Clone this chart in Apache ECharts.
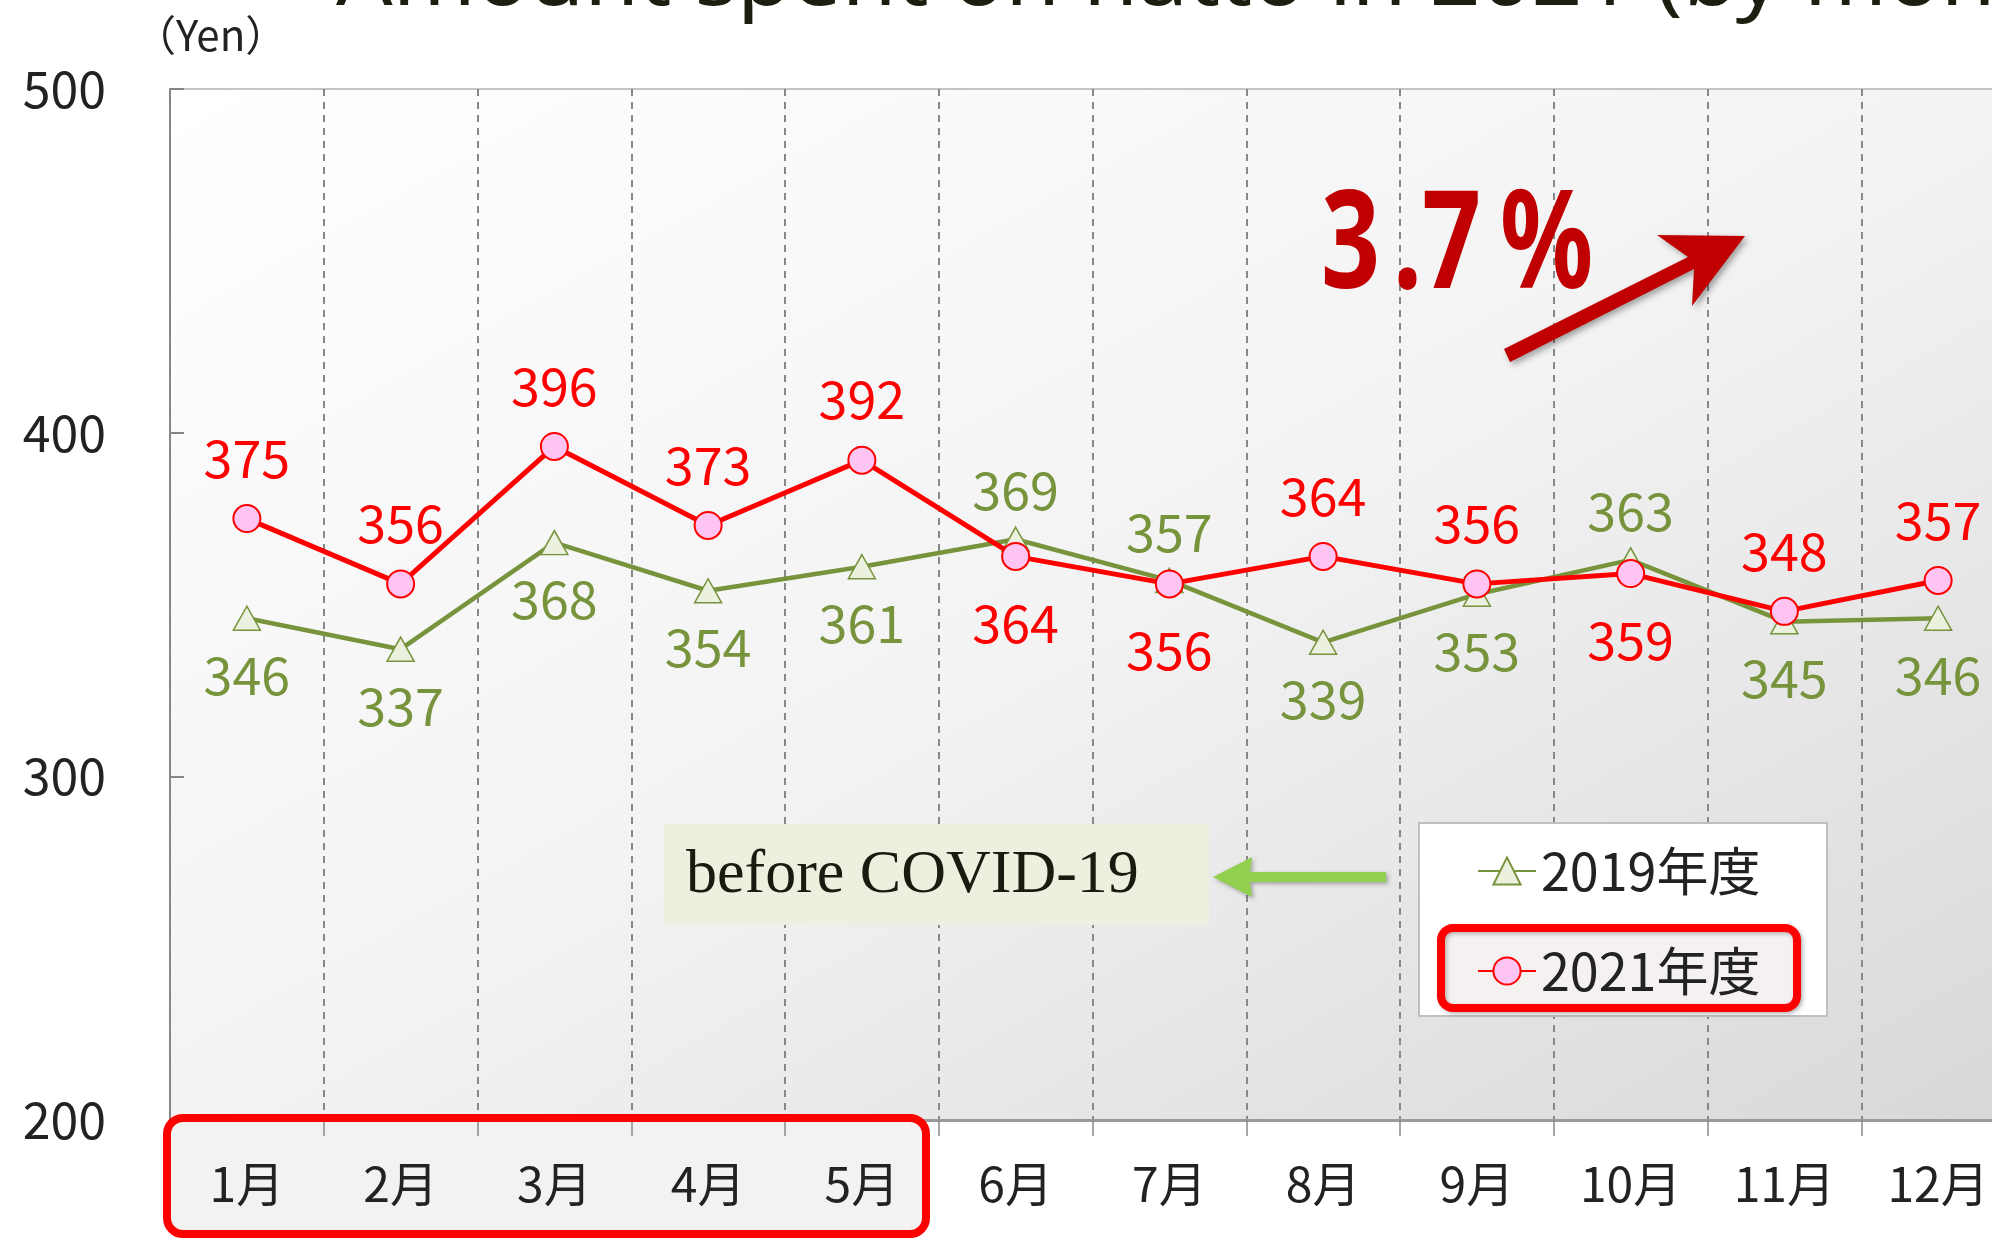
<!DOCTYPE html>
<html><head><meta charset="utf-8">
<script src="https://cdn.jsdelivr.net/npm/echarts@6/dist/echarts.min.js"></script>
<style>html,body{margin:0;padding:0;background:#fff;overflow:hidden;width:1992px;height:1242px}#c{width:2030px;height:1242px}</style>
</head><body><div id="c"></div>
<script>
const months = ['1月','2月','3月','4月','5月','6月','7月','8月','9月','10月','11月','12月'];
const yMin = 200, yMax = 500, yStep = 100;
const values2019 = [346, 337, 368, 354, 361, 369, 357, 339, 353, 363, 345, 346];
const values2021 = [375, 356, 396, 373, 392, 364, 356, 364, 356, 359, 348, 357];
const side2019 = ['bottom','bottom','bottom','bottom','bottom','top','top','bottom','bottom','top','bottom','bottom'];
const side2021 = ['top','top','top','top','top','bottom','bottom','top','top','bottom','top','top'];
const name2019 = '2019年度', name2021 = '2021年度';
const titleText = 'Amount spent on natto in 2021 (by month)';
const unitText = '（Yen）';
const noteText = 'before COVID-19';
const growthChars = ['3', '.', '7', '%'];

const FONT = '"Noto Sans CJK JP", "Noto Sans", sans-serif';
const GREEN = '#77933c', RED = '#ff0000', DARKRED = '#c00000';

function items(vals, sides, dTop, dBottom) {
  return vals.map((v, i) => ({
    value: v,
    label: { position: sides[i], distance: sides[i] === 'top' ? dTop : dBottom }
  }));
}

const chart = echarts.init(document.getElementById('c'), null, { renderer: 'canvas' });

const growthX = [1321, 1393, 1422, 1500];
const growthText = growthChars.map((ch, i) => ({
  type: 'text', x: growthX[i], y: 249, scaleX: 0.76, z: 20,
  style: { text: ch, fill: DARKRED, font: 'bold 136px "Noto Sans", sans-serif', align: 'left', verticalAlign: 'middle' }
}));

chart.setOption({
  backgroundColor: '#ffffff',
  animation: false,
  grid: {
    left: 170, top: 89, width: 1845, height: 1031,
    show: true, borderColor: '#c4c4c4', borderWidth: 2,
    backgroundColor: { type: 'linear', x: 170, y: 89, x2: 1048, y2: 1661, global: true,
      colorStops: [{ offset: 0, color: '#ffffff' }, { offset: 0.5, color: '#f3f3f3' }, { offset: 1, color: '#d8d8d8' }] }
  },
  legend: {
    orient: 'vertical', left: 1472, top: 840, itemGap: 48,
    itemWidth: 58, itemHeight: 34, z: 30,
    textStyle: { fontSize: 52, color: '#222', fontFamily: FONT, padding: [0,0,0,0] },
    data: [name2019, name2021]
  },
  xAxis: {
    type: 'category', data: months, boundaryGap: true, z: 3,
    axisLine: { lineStyle: { color: '#9a9a9a', width: 3 } },
    axisTick: { show: true, length: 16, lineStyle: { color: '#8a8a8a', width: 1.5 } },
    axisLabel: { fontSize: 48, color: '#222', fontFamily: FONT, margin: 40 },
    splitLine: { show: true, lineStyle: { color: '#888888', width: 2, type: [7, 6] } }
  },
  yAxis: {
    type: 'value', min: yMin, max: yMax, interval: yStep,
    axisLine: { show: true, lineStyle: { color: '#858585', width: 2 } },
    axisTick: { show: true, inside: true, length: 14, lineStyle: { color: '#858585', width: 2 } },
    axisLabel: { fontSize: 50, color: '#222', fontFamily: FONT, margin: 64 },
    splitLine: { show: false }
  },
  series: [
    {
      name: name2019, type: 'line', data: items(values2019, side2019, 10, 18), z: 4,
      symbol: 'triangle', symbolSize: [27, 24],
      lineStyle: { color: GREEN, width: 4.5 },
      itemStyle: { color: '#ebf1de', borderColor: GREEN, borderWidth: 1.5 },
      label: { show: true, color: GREEN, fontSize: 52, fontFamily: FONT }
    },
    {
      name: name2021, type: 'line', data: items(values2021, side2021, 20, 26), z: 5,
      symbol: 'circle', symbolSize: 27,
      lineStyle: { color: RED, width: 5 },
      itemStyle: { color: '#ffc4f2', borderColor: RED, borderWidth: 2 },
      label: { show: true, color: RED, fontSize: 52, fontFamily: FONT }
    }
  ],
  graphic: [
    { type: 'text', x: 336, y: -18, scaleX: 1.11, z: 20,
      style: { text: titleText, fill: '#1e1e10', font: '80px "Noto Sans", sans-serif', align: 'left', verticalAlign: 'middle' } },
    { type: 'text', x: 134, y: 35, z: 20,
      style: { text: unitText, fill: '#222', font: '42px "Noto Sans CJK JP"', align: 'left', verticalAlign: 'middle' } },
    { type: 'rect', z: 0, shape: { x: 167, y: 1118, width: 759, height: 116, r: 16 },
      style: { fill: '#f4f1f1' } },
    { type: 'rect', z: 25, shape: { x: 167, y: 1118, width: 759, height: 116, r: 16 },
      style: { fill: null, stroke: RED, lineWidth: 8 } },
    { type: 'rect', z: 10, shape: { x: 664, y: 824, width: 545, height: 101 },
      style: { fill: '#ebf1de' } },
    { type: 'text', x: 686, y: 876, z: 11,
      style: { text: noteText, fill: '#1a1a10', font: '62px "Liberation Serif", serif', align: 'left', verticalAlign: 'middle' } },
    { type: 'polygon', z: 12,
      shape: { points: [[1386, 872], [1250, 872], [1252, 857], [1213, 877], [1252, 897], [1250, 882], [1386, 882]] },
      style: { fill: '#92d050', shadowBlur: 4, shadowColor: 'rgba(0,0,0,0.3)', shadowOffsetX: 2, shadowOffsetY: 2 } },
    { type: 'rect', z: 10, shape: { x: 1419, y: 823, width: 408, height: 193 },
      style: { fill: '#ffffff', stroke: '#c0c0c0', lineWidth: 2 } },
    { type: 'rect', z: 11, shape: { x: 1441, y: 928, width: 356, height: 80, r: 12 },
      style: { fill: '#f5f1f1', stroke: RED, lineWidth: 8, shadowBlur: 4, shadowColor: 'rgba(0,0,0,0.25)', shadowOffsetX: 2, shadowOffsetY: 2 } },
    { type: 'polygon', z: 19,
      shape: { points: [[1504, 349], [1688, 257], [1657, 235], [1745, 236], [1692, 306], [1694, 269], [1510, 362]] },
      style: { fill: DARKRED, shadowBlur: 6, shadowColor: 'rgba(0,0,0,0.35)', shadowOffsetX: 3, shadowOffsetY: 3 } }
  ].concat(growthText)
});
</script>
</body></html>
